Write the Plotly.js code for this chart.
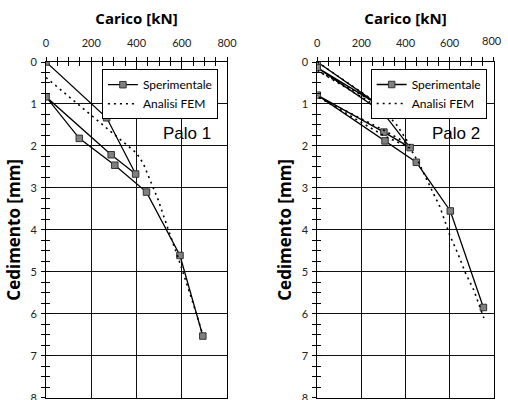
<!DOCTYPE html>
<html>
<head>
<meta charset="utf-8">
<script src="https://cdn.plot.ly/plotly-3.0.1.min.js"></script>
<style>html,body{margin:0;padding:0;background:#fff;overflow:hidden;width:508px;height:400px;}#chart{width:508px;height:400px;}</style>
</head>
<body>
<div id="chart"></div>
<script>
// Palo 1 - experimental (load kN, settlement mm)
const p1Load   = [0, 268, 396, 288, 0, 147, 304, 444, 592, 693];
const p1Settle = [0, 1.33, 2.67, 2.21, 0.83, 1.82, 2.46, 3.10, 4.61, 6.53];
// Palo 1 - FEM
const fem1Load   = [0, 100, 200, 300, 400, 430, 460, 496, 533, 592, 650, 690];
const fem1Settle = [0.37, 0.82, 1.27, 1.72, 2.17, 2.42, 2.80, 3.29, 3.88, 4.79, 5.75, 6.45];
// Palo 2 - experimental
const p2Load   = [0, 284, 0, 297, 421, 302, 0, 307, 449, 603, 753];
const p2Settle = [0, 1.04, 0.135, 1.20, 2.04, 1.67, 0.79, 1.88, 2.39, 3.55, 5.85];
// Palo 2 - FEM
const fem2Load   = [0, 300, 0, 300, 360, 420, 300, 0, 300, 420, 460, 495, 526, 555, 577, 600, 636, 672, 709, 738, 755];
const fem2Settle = [0, 1.08, 0.2, 1.15, 1.5, 1.98, 1.62, 0.82, 1.75, 2.05, 2.4, 2.81, 3.13, 3.44, 3.8, 4.12, 4.55, 5.03, 5.43, 5.83, 6.1];

// tick labels
const xTickVals = [0, 200, 400, 600, 800];
const xTickText1 = ['0', '200', '400', '600', '800'];
const xTickText2 = ['0', '200', '400', '600', ''];
const lastXTick = '800';

const seriesNames = ['Sperimentale', 'Analisi FEM'];
const xTitle = 'Carico [kN]';
const yTitle = 'Cedimento [mm]';
const panelLabels = ['Palo 1', 'Palo 2'];

const tickFont = {family: 'Lato, sans-serif', size: 11, color: '#222'};
const xTitleFont = {family: 'Open Sans, sans-serif', size: 15, color: '#000', weight: 'bold'};
const yTitleFont = {family: 'Open Sans, sans-serif', size: 17, color: '#000', weight: 'bold'};

function expTrace(x, y, xa, ya, lg, show) {
  return {x: x, y: y, xaxis: xa, yaxis: ya, name: seriesNames[0], legend: lg, showlegend: show,
    mode: 'lines+markers', line: {color: '#000', width: 1.3},
    marker: {symbol: 'square', size: 6.5, color: '#808080', line: {color: '#333', width: 1}}};
}
function femTrace(x, y, xa, ya, lg, show) {
  return {x: x, y: y, xaxis: xa, yaxis: ya, name: seriesNames[1], legend: lg, showlegend: show,
    mode: 'lines', line: {color: '#000', width: 1.6, dash: '2px,4px'}};
}
function ghost(x, y, xa, ya) {
  return {x: x, y: y, xaxis: xa, yaxis: ya, mode: 'lines', showlegend: false, hoverinfo: 'skip',
    line: {color: 'rgba(0,0,0,0)', width: 0}};
}

const data = [
  expTrace(p1Load, p1Settle, 'x', 'y', 'legend', true),
  femTrace(fem1Load, fem1Settle, 'x', 'y', 'legend', true),
  expTrace(p2Load, p2Settle, 'x2', 'y2', 'legend2', true),
  femTrace(fem2Load, fem2Settle, 'x2', 'y2', 'legend2', true),
  ghost(p1Load, p1Settle, 'x3', 'y3'),
  ghost(p2Load, p2Settle, 'x4', 'y4')
];

const yDom = [0.00575, 0.845];
function mainX(dom, anchor, tickText) {
  return {domain: dom, anchor: anchor, side: 'top', range: [0, 800],
    tickmode: 'array', tickvals: xTickVals, ticktext: tickText,
    ticks: 'inside', ticklen: 4, tickcolor: '#000', tickwidth: 1,
    minor: {dtick: 50, tick0: 0, ticks: 'inside', ticklen: 4, tickcolor: '#000', tickwidth: 1, showgrid: false},
    showgrid: true, gridcolor: '#111', gridwidth: 1, zeroline: false,
    showline: true, linecolor: '#000', linewidth: 1, mirror: true,
    tickfont: tickFont, ticklabelstandoff: 10, ticklabeloverflow: 'allow',
    title: {text: xTitle, font: xTitleFont, standoff: 7}};
}
function mainY(anchor) {
  return {domain: yDom, anchor: anchor, range: [8, 0], dtick: 1, tick0: 0,
    ticks: 'inside', ticklen: 4, tickcolor: '#000', tickwidth: 1,
    minor: {dtick: 0.25, ticks: 'inside', ticklen: 4, tickcolor: '#000', tickwidth: 1, showgrid: false},
    showgrid: true, gridcolor: '#111', gridwidth: 1, zeroline: false,
    showline: true, linecolor: '#000', linewidth: 1, mirror: true,
    tickfont: tickFont, ticklabelstandoff: 6, ticklabeloverflow: 'allow',
    title: {text: yTitle, font: yTitleFont, standoff: 5}};
}
function overX(over, anchor) {
  return {overlaying: over, anchor: anchor, side: 'top', range: [0, 800], dtick: 200, tick0: 0,
    ticks: 'outside', ticklen: 4, tickcolor: '#000', tickwidth: 1,
    minor: {dtick: 50, ticks: 'outside', ticklen: 4, tickcolor: '#000', tickwidth: 1, showgrid: false},
    showticklabels: false, showgrid: false, zeroline: false, showline: false};
}
function overY(over, anchor) {
  return {overlaying: over, anchor: anchor, side: 'left', range: [8, 0], dtick: 1, tick0: 0,
    ticks: 'outside', ticklen: 4, tickcolor: '#000', tickwidth: 1,
    minor: {dtick: 0.25, ticks: 'outside', ticklen: 4, tickcolor: '#000', tickwidth: 1, showgrid: false},
    showticklabels: false, showgrid: false, zeroline: false, showline: false};
}

const legendBase = {xanchor: 'right', yanchor: 'top', bgcolor: '#fff', bordercolor: '#000', borderwidth: 1,
  font: {family: 'Lato, sans-serif', size: 12, color: '#000'}, tracegroupgap: 0, itemwidth: 30};

const rightEnd = 0.972;
const layout = {
  width: 508, height: 400,
  margin: {l: 0, r: 0, t: 0, b: 0},
  paper_bgcolor: '#fff', plot_bgcolor: '#fff',
  xaxis: mainX([0.0906, 0.4469], 'y', xTickText1),
  yaxis: mainY('x'),
  xaxis2: mainX([0.6246, rightEnd], 'y2', xTickText2),
  yaxis2: mainY('x2'),
  xaxis3: overX('x', 'y'),
  yaxis3: overY('y', 'x'),
  xaxis4: overX('x2', 'y2'),
  yaxis4: overY('y2', 'x2'),
  legend: Object.assign({x: 0.429, y: 0.827}, legendBase),
  legend2: Object.assign({x: 0.958, y: 0.8275}, legendBase),
  annotations: [
    {text: panelLabels[0], xref: 'x', yref: 'y', x: 622, y: 1.71, showarrow: false,
     font: {family: 'Liberation Sans, Arial, sans-serif', size: 17, color: '#000'}},
    {text: panelLabels[1], xref: 'x2', yref: 'y2', x: 628, y: 1.71, showarrow: false,
     font: {family: 'Liberation Sans, Arial, sans-serif', size: 17, color: '#000'}},
    {text: lastXTick, xref: 'paper', yref: 'paper', x: rightEnd - 0.004, y: 0.898, xanchor: 'center', yanchor: 'middle',
     showarrow: false, font: tickFont}
  ],
  showlegend: true
};

Plotly.newPlot('chart', data, layout, {displayModeBar: false, staticPlot: true});
</script>
</body>
</html>
